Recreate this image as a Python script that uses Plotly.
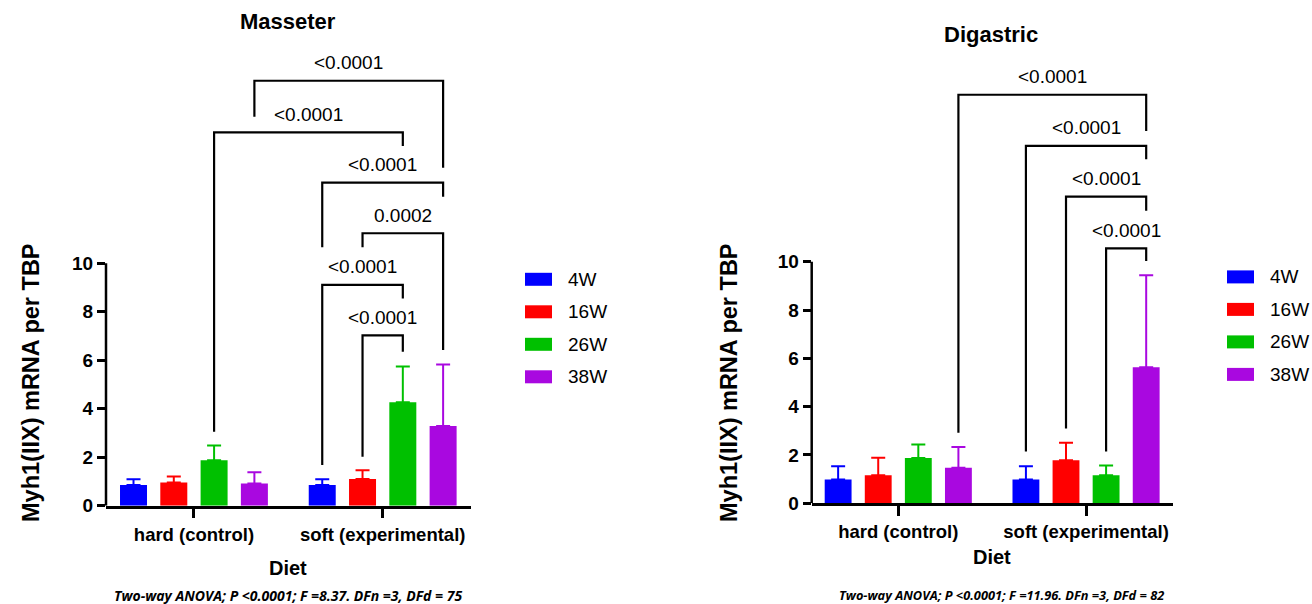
import plotly.graph_objects as go

# ---------------- data ----------------
diets = ["hard (control)", "soft (experimental)"]
diet_pos = [0, 1]
ages = ["4W", "16W", "26W", "38W"]
colors = ["#0000FF", "#FF0000", "#00C000", "#A908E0"]

# Masseter: mean per age, [hard, soft]
mass_4w = [0.85, 0.85]
mass_16w = [0.96, 1.10]
mass_26w = [1.87, 4.27]
mass_38w = [0.92, 3.29]
mass_err_4w = [0.24, 0.24]
mass_err_16w = [0.24, 0.36]
mass_err_26w = [0.61, 1.47]
mass_err_38w = [0.46, 2.54]

# Digastric
dig_4w = [0.99, 0.99]
dig_16w = [1.16, 1.78]
dig_26w = [1.87, 1.16]
dig_38w = [1.47, 5.63]
dig_err_4w = [0.54, 0.54]
dig_err_16w = [0.73, 0.73]
dig_err_26w = [0.56, 0.40]
dig_err_38w = [0.86, 3.81]

# brackets: (diet a, age a, diet b, age b, bracket y, left leg end, right leg end, label)
mass_brackets = [
    (0, 3, 1, 3, 17.53, 16.05, 13.94, "<0.0001"),
    (0, 2, 1, 2, 15.40, 3.05, 14.84, "<0.0001"),
    (1, 0, 1, 3, 13.33, 10.66, 12.75, "<0.0001"),
    (1, 1, 1, 3, 11.24, 10.66, 6.42, "0.0002"),
    (1, 0, 1, 2, 9.11, 1.68, 8.55, "<0.0001"),
    (1, 1, 1, 2, 7.03, 2.02, 6.35, "<0.0001"),
]
dig_brackets = [
    (0, 3, 1, 3, 16.91, 2.92, 15.41, "<0.0001"),
    (1, 0, 1, 3, 14.79, 2.14, 14.24, "<0.0001"),
    (1, 1, 1, 3, 12.69, 3.10, 12.11, "<0.0001"),
    (1, 2, 1, 3, 10.55, 2.14, 10.03, "<0.0001"),
]

y_ticks = [0, 2, 4, 6, 8, 10]
y_title = "Myh1(IIX) mRNA per TBP"
x_title = "Diet"
mass_title = "Masseter"
dig_title = "Digastric"
mass_note = "Two-way ANOVA; P <0.0001; F =8.37. DFn =3, DFd = 75"
dig_note = "Two-way ANOVA; P <0.0001; F =11.96. DFn =3, DFd = 82"

# ---------------- layout constants ----------------
W, H = 1312, 604
EXTRA_B = 10
BARGAP = 0.146
BARGROUPGAP = 0.33
SLOT = (1 - BARGAP) / 4
FONT = "Liberation Sans, Arial, sans-serif"


def px_x(p):
    return p / W


def px_y(p):
    return 1 - p / H


fig = go.Figure()

mass_means = [mass_4w, mass_16w, mass_26w, mass_38w]
mass_errs = [mass_err_4w, mass_err_16w, mass_err_26w, mass_err_38w]
dig_means = [dig_4w, dig_16w, dig_26w, dig_38w]
dig_errs = [dig_err_4w, dig_err_16w, dig_err_26w, dig_err_38w]

for ax, means, errs in [("", mass_means, mass_errs), ("2", dig_means, dig_errs)]:
    for i, age in enumerate(ages):
        fig.add_trace(go.Bar(
            x=diet_pos, y=means[i], name=age,
            marker=dict(color=colors[i], line=dict(width=0)),
            error_y=dict(type="data", array=errs[i], arrayminus=[0, 0], symmetric=False,
                         color=colors[i], thickness=2, width=7),
            xaxis="x" + ax, yaxis="y" + ax, showlegend=False,
            offsetgroup=str(i), legendgroup=age,
        ))


def bar_x(diet, age):
    return diet_pos[diet] + (age - 1.5) * SLOT


annotations = []
for ax, brackets in [("", mass_brackets), ("2", dig_brackets)]:
    for (da, aa, db, ab, yb, yl, yr, lab) in brackets:
        xa = bar_x(da, aa)
        xb = bar_x(db, ab)
        fig.add_trace(go.Scatter(
            x=[xa, xa, xb, xb], y=[yl, yb, yb, yr], mode="lines",
            line=dict(color="black", width=2.2), xaxis="x" + ax, yaxis="y" + ax,
            showlegend=False, hoverinfo="skip",
        ))
        annotations.append(dict(
            x=(xa + xb) / 2, y=yb, xref="x" + ax, yref="y" + ax, text=lab,
            showarrow=False, yshift=18, xanchor="center", yanchor="middle",
            font=dict(family=FONT, size=19, color="black"),
        ))

# axes
axis_common_y = dict(
    tickvals=y_ticks, ticks="outside", ticklen=8, tickwidth=2.5, tickcolor="black",
    showline=False, showgrid=False, zeroline=False,
    tickfont=dict(family=FONT, size=19, color="black", weight="bold"),
)
axis_common_x = dict(
    type="linear", tickvals=diet_pos, ticktext=diets,
    ticks="outside", ticklen=10, tickwidth=2.5, tickcolor="black",
    showline=True, linewidth=2.5, linecolor="black", showgrid=False, zeroline=False,
    tickfont=dict(family=FONT, size=18.5, color="black", weight="bold"),
)

fig.update_layout(
    width=W, height=H + EXTRA_B, margin=dict(l=0, r=0, t=0, b=EXTRA_B, pad=0, autoexpand=False),
    plot_bgcolor="white", paper_bgcolor="white",
    barmode="group", bargap=BARGAP, bargroupgap=BARGROUPGAP,
    xaxis=dict(domain=[px_x(106), px_x(471)], range=[-0.466, 1.468], anchor="y", **axis_common_x),
    yaxis=dict(domain=[px_y(505.7), px_y(40)], range=[0, (505.7 - 40) / 24.24], anchor="x", **axis_common_y),
    xaxis2=dict(domain=[px_x(811.7), px_x(1173)], range=[-0.461, 1.463], anchor="y2", **axis_common_x),
    yaxis2=dict(domain=[px_y(503.3), px_y(40)], range=[0, (503.3 - 40) / 24.16], anchor="x2", **axis_common_y),
    showlegend=False,
)

shapes = []
# partial y axis lines (0..10)
for ax in ["", "2"]:
    shapes.append(dict(type="line", xref="x" + ax + " domain", yref="y" + ax,
                       x0=0, x1=0, y0=0, y1=10, line=dict(color="black", width=2.5)))

# manual legends
for legend_x, legend_y0 in [(525, 279.3), (1227, 276.9)]:
    for i, age in enumerate(ages):
        yc = legend_y0 + i * 32.5
        shapes.append(dict(type="rect", xref="paper", yref="paper",
                           x0=px_x(legend_x), x1=px_x(legend_x + 27),
                           y0=px_y(yc + 6.5), y1=px_y(yc - 6.5),
                           fillcolor=colors[i], line=dict(width=0)))
        annotations.append(dict(x=px_x(legend_x + 41), y=px_y(yc), xref="paper", yref="paper",
                                text=age, showarrow=False, xanchor="left", yanchor="middle",
                                font=dict(family=FONT, size=19, color="black")))

# titles and axis titles
for (tx, ty, txt, sz) in [(288, 21.5, mass_title, 22), (991, 34.5, dig_title, 22),
                          (288, 568, x_title, 20), (992, 557, x_title, 20)]:
    annotations.append(dict(x=px_x(tx), y=px_y(ty), xref="paper", yref="paper", text="<b>" + txt + "</b>",
                            showarrow=False, xanchor="center", yanchor="middle",
                            font=dict(family=FONT, size=sz, color="black")))
for tx in [31, 729]:
    annotations.append(dict(x=px_x(tx), y=px_y(383), xref="paper", yref="paper", text="<b>" + y_title + "</b>",
                            showarrow=False, xanchor="center", yanchor="middle", textangle=-90,
                            font=dict(family=FONT, size=23.5, color="black")))
for (tx, txt, sz) in [(288, mass_note, 14), (1001, dig_note, 12.8)]:
    annotations.append(dict(x=px_x(tx), y=px_y(595), xref="paper", yref="paper",
                            text="<b><i>" + txt + "</i></b>",
                            showarrow=False, xanchor="center", yanchor="middle",
                            font=dict(family="Open Sans, sans-serif", size=sz, color="black")))

fig.update_layout(shapes=shapes, annotations=annotations)
fig.write_html("out.html", config={"displayModeBar": False},
               post_script="document.body.style.margin='0px';")
